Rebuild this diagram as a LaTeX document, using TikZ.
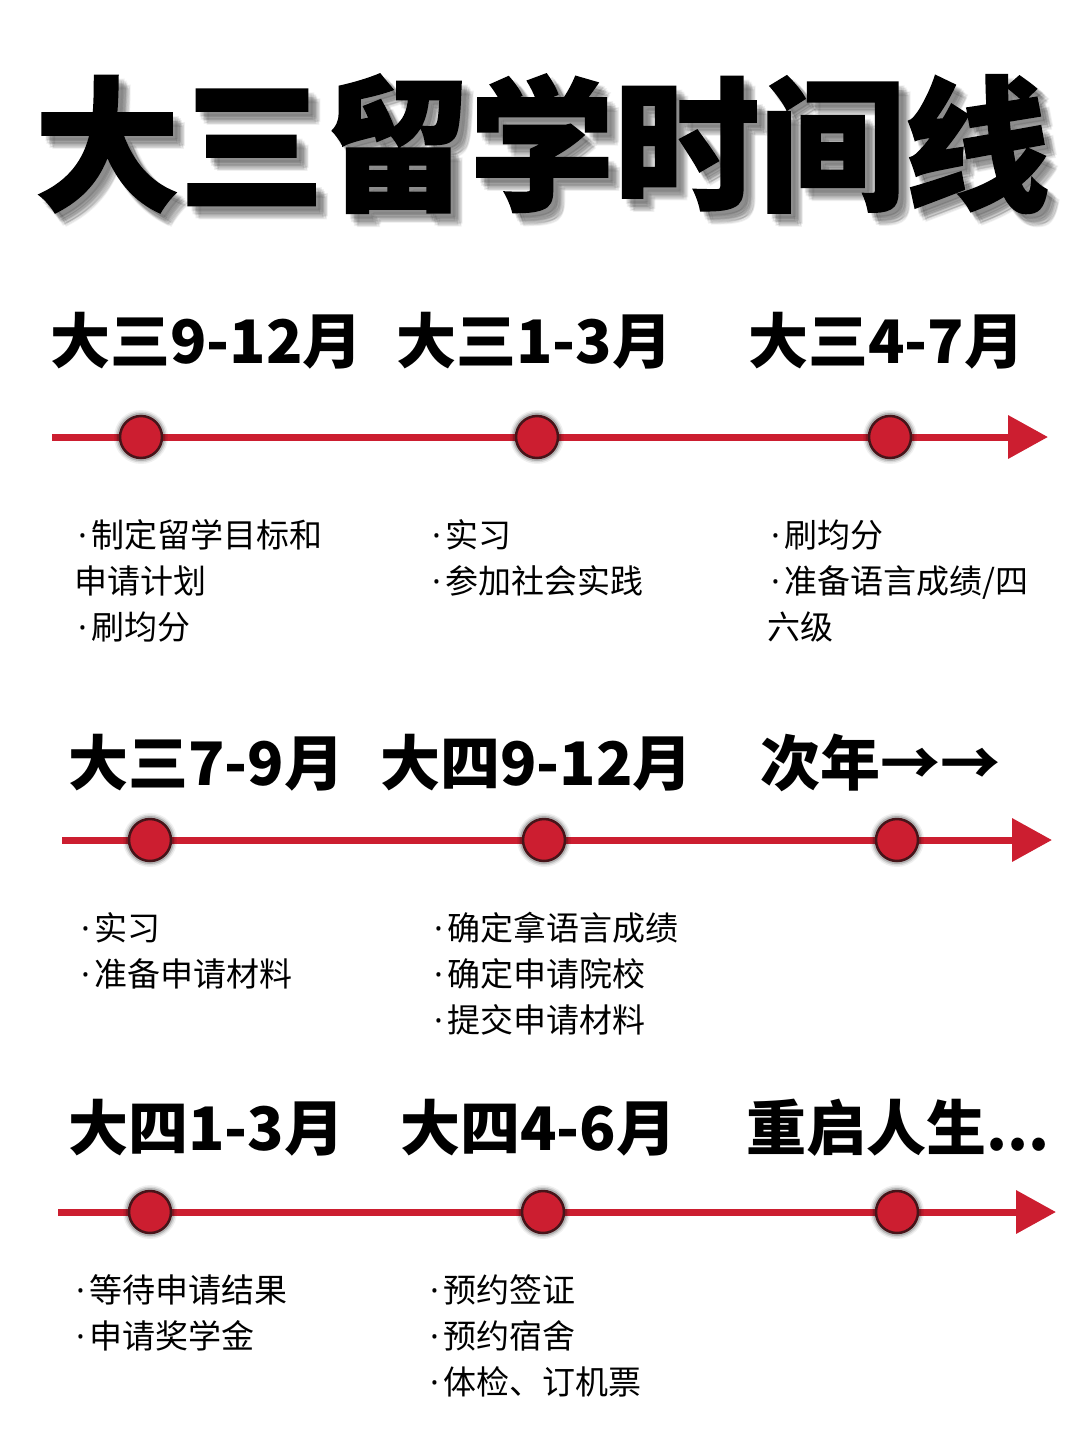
\documentclass[tikz,border=0pt]{standalone}
\usepackage{fontspec}
\usetikzlibrary{arrows.meta}
\setmainfont{Noto Sans CJK SC}
\newfontfamily\titlef{Noto Sans CJK SC}[BoldFeatures={FakeBold=1.2}]
\newfontfamily\latf{Noto Sans}
\newcommand\bdot{\makebox[17pt][c]{\latf\char"00B7}}
\definecolor{tlred}{RGB}{204,30,48}
\definecolor{dotedge}{RGB}{70,20,25}
\begin{document}
\begin{tikzpicture}[x=1pt,y=-1pt,
  titlestyle/.style={inner sep=0pt,font=\titlef\fontsize{145}{145}\selectfont\bfseries,text height=127pt,text depth=18pt},
  hdr/.style={anchor=west,inner sep=0pt,font=\fontsize{60}{60}\selectfont\bfseries,text height=53pt,text depth=7pt},
  body/.style={anchor=west,inner sep=0pt,font=\fontsize{33}{33}\selectfont,text height=29pt,text depth=4pt},
  tl/.style={line width=7pt,draw=tlred,-{Triangle[length=40pt,width=42pt]}},
  dotn/.style={circle,fill=tlred,draw=dotedge,line width=2.5pt,minimum size=42pt,inner sep=0pt}]
\useasboundingbox (0,0) rectangle (1080,1440);
\fill[white] (0,0) rectangle (1080,1440);
% title shadow (soft)
\foreach \dx/\dy in {4/5,6/4,5/8,8/6,7/9,9/8,10/11,8/12,12/10,11/13}{
  \node[titlestyle,text=black,opacity=0.055] at (542+\dx,145+\dy) {大三留学时间线};
}
\node[titlestyle] (title) at (542,145) {大三留学时间线};
% ---------- row 1
\node[hdr] (h11) at (50,340) {大三9-12月};
\node[hdr] (h12) at (396,340) {大三1-3月};
\node[hdr] (h13) at (748,340) {大三4-7月};
\coordinate (s1) at (52,437);
\coordinate (e1) at (1048,437);
\draw[tl] (s1) -- (e1);
\foreach \x/\n in {141/d11,537/d12,890/d13}{
  \foreach \r/\op in {27/0.06,25.5/0.1,24/0.18}{\fill[black,opacity=\op] (\x,437) circle (\r);}
  \node[dotn] (\n) at (\x,437) {};
}
\node[body] (t111) at (74,535) {\bdot 制定留学目标和};
\node[body] (t112) at (74,581) {申请计划};
\node[body] (t113) at (74,627) {\bdot 刷均分};
\node[body] (t121) at (428,535) {\bdot 实习};
\node[body] (t122) at (428,581) {\bdot 参加社会实践};
\node[body] (t131) at (767,535) {\bdot 刷均分};
\node[body] (t132) at (767,581) {\bdot 准备语言成绩/四};
\node[body] (t133) at (767,627) {六级};
% ---------- row 2
\node[hdr] (h21) at (68,762) {大三7-9月};
\node[hdr] (h22) at (380,762) {大四9-12月};
\node[hdr] (h23) at (760,762) {次年→→};
\coordinate (s2) at (62,840);
\coordinate (e2) at (1052,840);
\draw[tl] (s2) -- (e2);
\foreach \x/\n in {150/d21,544/d22,897/d23}{
  \foreach \r/\op in {27/0.06,25.5/0.1,24/0.18}{\fill[black,opacity=\op] (\x,840) circle (\r);}
  \node[dotn] (\n) at (\x,840) {};
}
\node[body] (t211) at (77,928) {\bdot 实习};
\node[body] (t212) at (77,974) {\bdot 准备申请材料};
\node[body] (t221) at (430,928) {\bdot 确定拿语言成绩};
\node[body] (t222) at (430,974) {\bdot 确定申请院校};
\node[body] (t223) at (430,1020) {\bdot 提交申请材料};
% ---------- row 3
\node[hdr] (h31) at (68,1127) {大四1-3月};
\node[hdr] (h32) at (400,1127) {大四4-6月};
\node[hdr] (h33) at (746,1127) {重启人生...};
\coordinate (s3) at (58,1212);
\coordinate (e3) at (1056,1212);
\draw[tl] (s3) -- (e3);
\foreach \x/\n in {150/d31,543/d32,897/d33}{
  \foreach \r/\op in {27/0.06,25.5/0.1,24/0.18}{\fill[black,opacity=\op] (\x,1212) circle (\r);}
  \node[dotn] (\n) at (\x,1212) {};
}
\node[body] (t311) at (72,1290) {\bdot 等待申请结果};
\node[body] (t312) at (72,1336) {\bdot 申请奖学金};
\node[body] (t321) at (426,1290) {\bdot 预约签证};
\node[body] (t322) at (426,1336) {\bdot 预约宿舍};
\node[body] (t323) at (426,1382) {\bdot 体检、订机票};
\end{tikzpicture}
\end{document}
